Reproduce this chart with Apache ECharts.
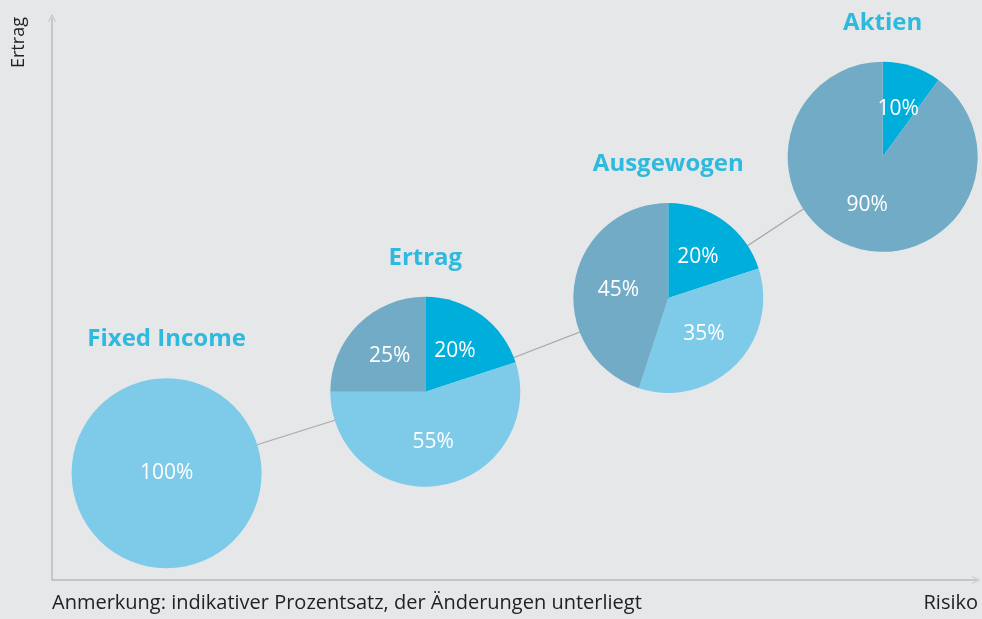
<!DOCTYPE html>
<html>
<head>
<meta charset="utf-8">
<script src="https://cdn.jsdelivr.net/npm/echarts@6/dist/echarts.min.js"></script>
<style>
  html, body { margin: 0; padding: 0; background: #e6e7e8; }
  #chart { width: 982px; height: 619px; }
</style>
</head>
<body>
<div id="chart"></div>
<script>
// Portfolios: position on risk (x) / return (y), 0..100 relative
const portfolios = ['Fixed Income', 'Ertrag', 'Ausgewogen', 'Aktien'];
const risk = [12.4, 40.4, 66.7, 89.9];
const ertrag = [19, 33.5, 50.2, 75.3];

// allocation of each portfolio (percent)
const fixedIncomeMix = [100];
const ertragMix = [20, 55, 25];
const ausgewogenMix = [20, 35, 45];
const aktienMix = [10, 90];

const DARK = '#00aedb', LIGHT = '#7ecae9', GREY = '#72abc6';
const fontFam = '"Open Sans", Lato, sans-serif';

var myChart = echarts.init(document.getElementById('chart'), null, {renderer: 'canvas'});

// chevron arrow for axis ends
const chevron = 'path://M0,10 L5,0 L10,10 L9.2,10.6 L5,2 L0.8,10.6 Z';

myChart.setOption({
  backgroundColor: '#e6e7e8',
  animation: false,
  grid: { left: 52, right: 6, top: 18, bottom: 39 },
  xAxis: {
    type: 'value', min: 0, max: 100,
    axisLine: { show: true, symbol: ['none', chevron], symbolSize: [15, 8], lineStyle: { color: '#bcbcbc', width: 1.5 } },
    axisTick: { show: false }, axisLabel: { show: false }, splitLine: { show: false }
  },
  yAxis: {
    type: 'value', min: 0, max: 100,
    axisLine: { show: true, symbol: ['none', chevron], symbolSize: [15, 8], lineStyle: { color: '#bcbcbc', width: 1.5 } },
    axisTick: { show: false }, axisLabel: { show: false }, splitLine: { show: false }
  },
  graphic: [
    { type: 'text', x: 10, y: 68, rotation: Math.PI / 2,
      style: { text: 'Ertrag', fill: '#222', font: '18px ' + fontFam, textAlign: 'left', textVerticalAlign: 'top' } },
    { type: 'text', right: 4, top: 593,
      style: { text: 'Risiko', fill: '#222', font: '20px ' + fontFam } },
    { type: 'text', left: 52, top: 593,
      style: { text: 'Anmerkung: indikativer Prozentsatz, der Änderungen unterliegt', fill: '#222', font: '20px ' + fontFam } }
  ],
  series: [
    {
      type: 'line', z: 1,
      data: risk.map((x, i) => [x, ertrag[i]]),
      showSymbol: false,
      lineStyle: { color: '#a9a9a9', width: 1.2 },
      silent: true
    },
    {
      type: 'scatter', z: 10,
      symbolSize: 0,
      data: risk.map((x, i) => ({ name: portfolios[i], value: [x, ertrag[i]] })),
      label: {
        show: true, position: 'top', distance: 122,
        formatter: '{b}', color: DARK, fontSize: 24, fontWeight: 'bold', fontFamily: fontFam
      },
      silent: true
    }
  ]
});

// pies placed on the library's own scale
const mixes = [
  fixedIncomeMix.map(v => ({ value: v, itemStyle: { color: LIGHT } })),
  ertragMix.map((v, i) => ({ value: v, itemStyle: { color: [DARK, LIGHT, GREY][i] } })),
  ausgewogenMix.map((v, i) => ({ value: v, itemStyle: { color: [DARK, LIGHT, GREY][i] } })),
  aktienMix.map((v, i) => ({ value: v, itemStyle: { color: [DARK, GREY][i] } }))
];

let pies = mixes.map((data, i) => {
  let c = myChart.convertToPixel({ gridIndex: 0 }, [risk[i], ertrag[i]]);
  return {
    type: 'pie', z: 2,
    center: c, radius: 95,
    startAngle: 90, clockwise: true,
    data: data,
    label: {
      show: true, position: i === 0 ? 'center' : 'inside',
      formatter: '{c}%', color: '#fff', fontSize: 21, fontFamily: fontFam
    },
    labelLine: { show: false },
    emphasis: { disabled: true },
    silent: true
  };
});

myChart.setOption({ series: myChart.getOption().series.slice(0, 2).concat(pies) });
</script>
</body>
</html>
